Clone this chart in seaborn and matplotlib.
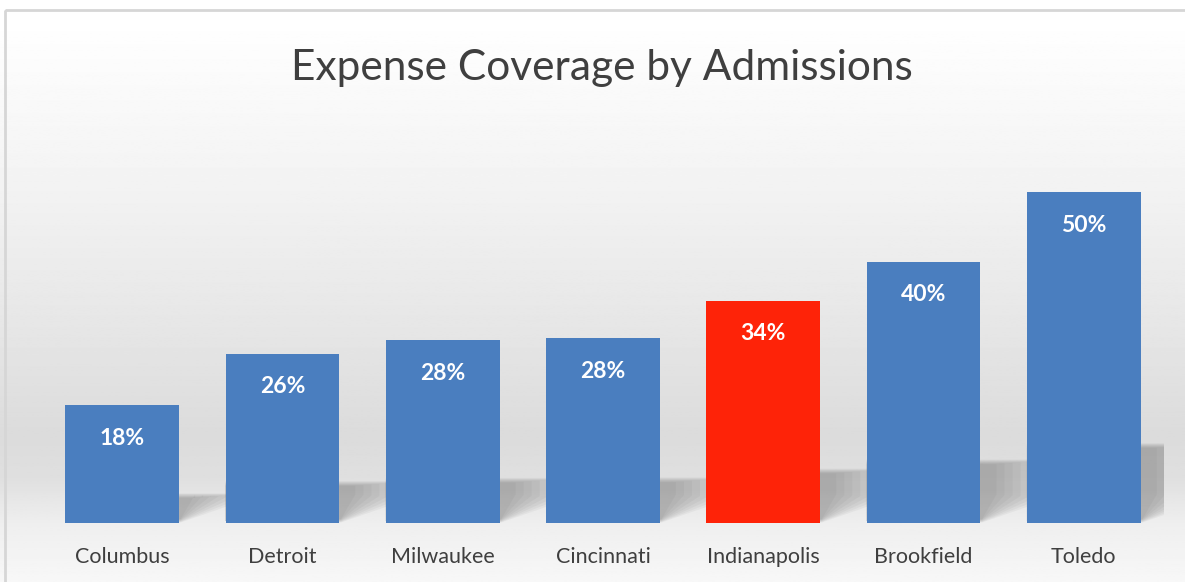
import numpy as np
import pandas as pd
import matplotlib
matplotlib.use("Agg")
import matplotlib.pyplot as plt
from matplotlib.patches import Polygon, Rectangle
import seaborn as sns

# chart data
cities = ["Columbus", "Detroit", "Milwaukee", "Cincinnati", "Indianapolis", "Brookfield", "Toledo"]
coverage = [17.8, 25.6, 27.7, 28.0, 33.6, 39.5, 50.0]
highlight = "Indianapolis"
title = "Expense Coverage by Admissions"

BLUE = "#4a7ebf"
RED = "#fe2308"
TEXT = "#3f3f3f"

sns.set_style("white")
plt.rcParams["font.family"] = ["Lato", "DejaVu Sans"]

df = pd.DataFrame({"city": cities, "coverage": coverage})
palette = {c: (RED if c == highlight else BLUE) for c in cities}

fig = plt.figure(figsize=(11.85, 5.82), dpi=100)

# background gradient (white -> gray -> lighter floor)
bg = fig.add_axes([0, 0, 1, 1], zorder=0)
ys = np.linspace(0, 1, 400)
stops = [0.0, 0.03, 0.30, 0.55, 0.75, 0.82, 0.90, 1.0]
levels = [1.0, 1.0, 0.955, 0.905, 0.86, 0.875, 0.935, 0.97]
grad = np.interp(ys, stops, levels)
img = np.repeat(grad[:, None], 2, axis=1)
bg.imshow(img, cmap="gray", vmin=0, vmax=1, aspect="auto", extent=[0, 1, 1, 0])
bg.set_xlim(0, 1)
bg.set_ylim(1, 0)
bg.axis("off")
# chart border (right and bottom run off the image)
bg.add_patch(Rectangle((5 / 1185, 10 / 582), 1.1, 1.1, fill=False,
                       edgecolor="#d6d6d6", linewidth=2))

ax = fig.add_axes([42 / 1185, 59 / 582, 1122 / 1185, 364 / 582], zorder=1)
ax.patch.set_alpha(0)

sns.barplot(data=df, x="city", y="coverage", hue="city", palette=palette,
            legend=False, width=0.71, saturation=1, linewidth=0, ax=ax, zorder=3)

# soft slanted shadows to the right of each bar
for p in list(ax.patches):
    x0, w = p.get_x(), p.get_width()
    r = x0 + w
    H = 0.235 * p.get_height()
    dx, dy = 0.3, 4.0
    for k in range(8):
        s = 0.025 * (k - 3)
        top = H - 4 * s
        poly = Polygon([(x0, 0.3), (r + 0.01, 0.3 + 3 * s),
                        (r + dx - 2 * s, dy + 3 * s), (r + dx - 2 * s, top),
                        (x0, top)],
                       closed=True, facecolor="#5a5a5a", edgecolor="none",
                       alpha=0.06, zorder=2)
        ax.add_patch(poly)

for i, v in enumerate(coverage):
    ax.annotate(f"{v:.0f}%", xy=(i, v), xytext=(0, -24), textcoords="offset points",
                ha="center", va="center", color="white", fontsize=16.5,
                fontweight="bold", zorder=4)

ax.set_xlim(-0.5, len(cities) - 0.5)
ax.set_ylim(0, 55)
ax.set_xlabel("")
ax.set_ylabel("")
ax.set_yticks([])
ax.tick_params(axis="x", length=0, pad=17, labelsize=15.5, labelcolor=TEXT)
sns.despine(ax=ax, left=True, bottom=True)

fig.text(602 / 1185, 1 - 68 / 582, title, ha="center", va="center",
         fontsize=30.5, color=TEXT)

fig.savefig("out.png", dpi=100)
